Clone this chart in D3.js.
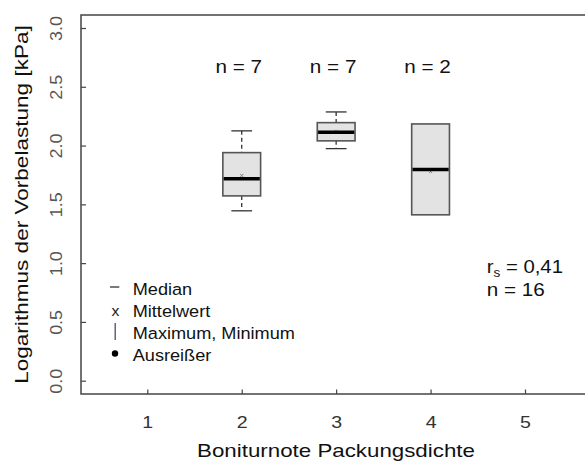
<!DOCTYPE html>
<html>
<head>
<meta charset="utf-8">
<script src="https://cdn.jsdelivr.net/npm/d3@7"></script>
<style>
  html, body { margin: 0; padding: 0; background: #fff; }
  svg { display: block; font-family: "Liberation Sans", Arial, sans-serif; }
</style>
</head>
<body>
<svg id="chart" width="585" height="467"></svg>
<script>
// ---- data ----
const categories  = [2, 3, 4];
const nLabels     = ["n = 7", "n = 7", "n = 2"];
const whiskerHigh = [2.125, 2.286, null];
const q3          = [1.94, 2.195, 2.184];
const medians     = [1.717, 2.113, 1.796];
const q1          = [1.572, 2.04, 1.411];
const whiskerLow  = [1.445, 1.974, null];
const means       = [1.745, 2.12, 1.779];
const xTicks      = [1, 2, 3, 4, 5];
const yTicks      = [0, 0.5, 1, 1.5, 2, 2.5, 3];
const legendItems = ["Median", "Mittelwert", "Maximum, Minimum", "Ausreißer"];
const statsR      = "0,41";
const statsN      = "n = 16";
const xTitle      = "Boniturnote Packungsdichte";
const yTitle      = "Logarithmus der Vorbelastung [kPa]";

// ---- layout ----
const svg = d3.select("#chart");
const frame = { left: 81, top: 15, right: 592, bottom: 394 };
const x = d3.scaleLinear().domain([1, 5]).range([147.3, 525]);
const y = d3.scaleLinear().domain([0, 3]).range([380.7, 28]);
const unit = x(2) - x(1);
const boxW = 0.4 * unit;
const capW = 0.22 * unit;
const dark = "#444";

// frame
svg.append("rect")
  .attr("x", frame.left).attr("y", frame.top)
  .attr("width", frame.right - frame.left).attr("height", frame.bottom - frame.top)
  .attr("fill", "none").attr("stroke", dark).attr("stroke-width", 1.5);

function stext(sel, px, py, str, size, sx, anchor, rot, fill) {
  return sel.append("text")
    .attr("transform", `translate(${px},${py}) rotate(${rot || 0}) scale(${sx},1)`)
    .attr("text-anchor", anchor || "start")
    .attr("font-size", size)
    .attr("fill", fill || "#111")
    .text(str);
}

// y axis (ticks inward)
const yAxis = svg.append("g").attr("transform", `translate(${frame.left},0)`)
  .call(d3.axisLeft(y).tickValues(yTicks).tickSize(-5).tickFormat(d3.format(".1f")));
yAxis.select(".domain").remove();
yAxis.selectAll(".tick line").attr("stroke", dark).attr("stroke-width", 1.2);
yAxis.selectAll(".tick text")
  .attr("x", null).attr("dy", null)
  .attr("text-anchor", "middle")
  .attr("font-size", 16)
  .attr("font-family", "Liberation Sans, Arial, sans-serif")
  .attr("fill", "#555")
  .attr("transform", `translate(${61.5 - frame.left},0) rotate(-90) scale(1.12,1)`);

// x axis (ticks inward)
const xAxis = svg.append("g").attr("transform", `translate(0,${frame.bottom})`)
  .call(d3.axisBottom(x).tickValues(xTicks).tickSize(-4.5).tickFormat(d3.format("d")));
xAxis.select(".domain").remove();
xAxis.selectAll(".tick line").attr("stroke", dark).attr("stroke-width", 1.2);
xAxis.selectAll(".tick text")
  .attr("y", null).attr("dy", null)
  .attr("text-anchor", "middle")
  .attr("font-size", 17)
  .attr("font-family", "Liberation Sans, Arial, sans-serif")
  .attr("fill", "#333")
  .attr("transform", `translate(0,${428 - frame.bottom}) scale(1.15,1)`);

// axis titles
stext(svg, 336, 457, xTitle, 18, 1.24, "middle", 0);
stext(svg, 27.5, 204.5, yTitle, 18.5, 1.22, "middle", -90);

// boxes
const data = categories.map((c, i) => ({
  c, n: nLabels[i], hi: whiskerHigh[i], q3: q3[i], med: medians[i],
  q1: q1[i], lo: whiskerLow[i], mean: means[i]
}));

const g = svg.append("g");
data.forEach(d => {
  const cx = x(d.c);
  if (d.hi != null) {
    g.append("line").attr("x1", cx).attr("x2", cx).attr("y1", y(d.hi)).attr("y2", y(d.q3))
      .attr("stroke", "#333").attr("stroke-width", 1.3).attr("stroke-dasharray", "4,3");
    g.append("line").attr("x1", cx - capW / 2).attr("x2", cx + capW / 2).attr("y1", y(d.hi)).attr("y2", y(d.hi))
      .attr("stroke", "#333").attr("stroke-width", 1.3);
  }
  if (d.lo != null) {
    g.append("line").attr("x1", cx).attr("x2", cx).attr("y1", y(d.q1)).attr("y2", y(d.lo))
      .attr("stroke", "#333").attr("stroke-width", 1.3).attr("stroke-dasharray", "4,3");
    g.append("line").attr("x1", cx - capW / 2).attr("x2", cx + capW / 2).attr("y1", y(d.lo)).attr("y2", y(d.lo))
      .attr("stroke", "#333").attr("stroke-width", 1.3);
  }
  g.append("rect")
    .attr("x", cx - boxW / 2).attr("y", y(d.q3))
    .attr("width", boxW).attr("height", y(d.q1) - y(d.q3))
    .attr("fill", "#e3e3e3").attr("stroke", "#555").attr("stroke-width", 1.6);
  g.append("path")
    .attr("transform", `translate(${cx},${y(d.mean)})`)
    .attr("d", d3.symbol().type(d3.symbolX).size(8)())
    .attr("fill", "none").attr("stroke", "#777").attr("stroke-width", 0.9);
  g.append("line")
    .attr("x1", cx - boxW / 2 + 0.8).attr("x2", cx + boxW / 2 - 0.8)
    .attr("y1", y(d.med)).attr("y2", y(d.med))
    .attr("stroke", "#000").attr("stroke-width", 3.5);
  stext(svg, cx - 3, 73, d.n, 18, 1.15, "middle", 0);
});

// legend
const lg = svg.append("g");
const legY = [295, 317, 339, 361];
const legTextX = 132.7;
lg.append("line").attr("x1", 110).attr("x2", 119.3).attr("y1", 287).attr("y2", 287)
  .attr("stroke", "#222").attr("stroke-width", 1.2);
stext(lg, 115.5, legY[1] - 1.5, "x", 15, 1.05, "middle", 0, "#222");
lg.append("line").attr("x1", 115.2).attr("x2", 115.2).attr("y1", 323).attr("y2", 340)
  .attr("stroke", "#554477").attr("stroke-width", 1.3);
lg.append("circle").attr("cx", 115).attr("cy", 353.5).attr("r", 3.2).attr("fill", "#000");
legendItems.forEach((t, i) => stext(lg, legTextX, legY[i], t, 16.5, 1.1, "start", 0));

// statistics
const st = svg.append("text")
  .attr("transform", "translate(486.7,273) scale(1.13,1)")
  .attr("font-size", 18).attr("fill", "#111");
st.append("tspan").text("r");
st.append("tspan").attr("font-size", 12).attr("dy", 4).text("s");
st.append("tspan").attr("dy", -4).text(" = " + statsR);
stext(svg, 486.7, 296, statsN, 18, 1.15, "start", 0);
</script>
</body>
</html>
